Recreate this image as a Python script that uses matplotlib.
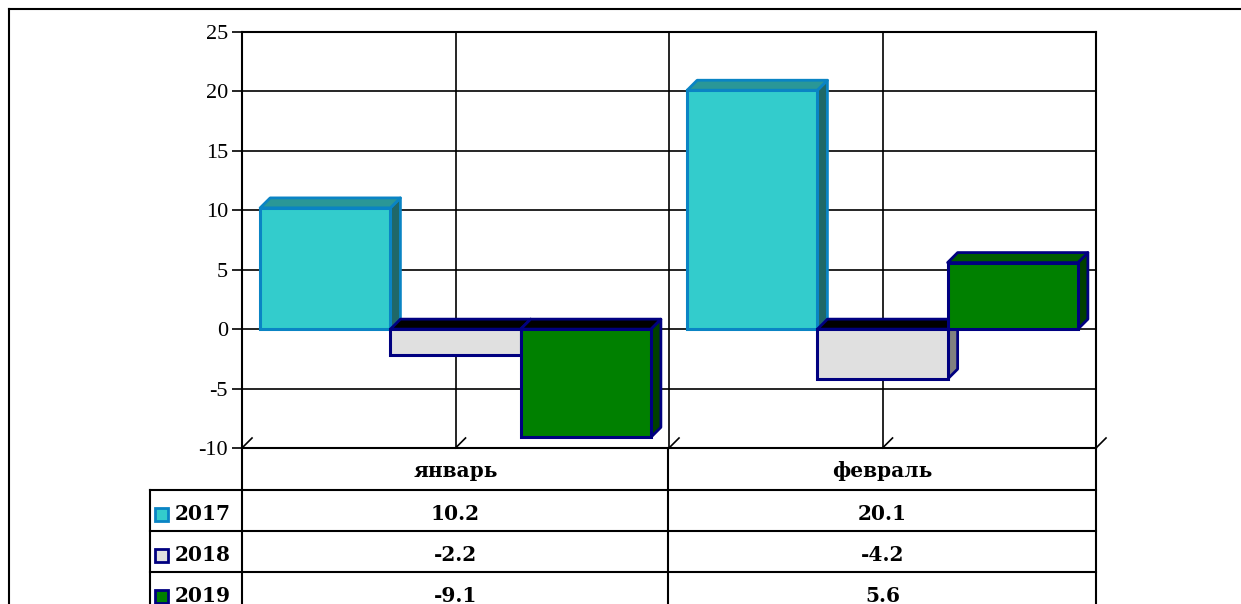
import matplotlib.pyplot as plt
import matplotlib.transforms as mtransforms
from matplotlib.patches import Rectangle, Polygon
from matplotlib.lines import Line2D

plt.rcParams['axes.unicode_minus'] = False

months = ["январь", "февраль"]
years = ["2017", "2018", "2019"]
v2017 = [10.2, 20.1]
v2018 = [-2.2, -4.2]
v2019 = [-9.1, 5.6]
series = [v2017, v2018, v2019]

face = ["#33CCCC", "#E0E0E0", "#008000"]
edge = ["#0A84C4", "#000080", "#000080"]
top_c = ["#2A9797", "#000000", "#005C00"]
side_c = ["#1F6868", "#808080", "#004000"]

W, H = 1241, 604
def fx(px):
    return px / W
def fy(py):
    return 1 - py / H

fig = plt.figure(figsize=(W / 100, H / 100), dpi=100)
ax = fig.add_axes([fx(242), fy(448), (1096 - 242) / W, (448 - 32) / H])
ax.set_xlim(-0.5, 1.5)
ax.set_ylim(-10, 25)

# depth of the fake 3d, in data units (10 px each way)
dx = 10 / 426
dy = 10 / (416 / 35)
w = 0.305
offs = [-0.305, 0.0, 0.305]

for y in range(-10, 30, 5):
    ax.axhline(y, color="black", lw=1.2, zorder=0)
for x in [-0.5, 0, 0.5, 1, 1.5]:
    ax.axvline(x, color="black", lw=1.2, zorder=0)
    ax.plot([x, x + dx], [-10, -10 + dy], color="black", lw=1.2, clip_on=False, zorder=0)

z = 2
for i in range(len(months)):
    for s, vals in enumerate(series):
        v = vals[i]
        x0 = i + offs[s] - w / 2
        x1 = x0 + w
        yt = max(v, 0)
        tc = top_c[s] if v >= 0 else "#000000"
        ax.add_patch(Polygon([(x1, 0), (x1 + dx, dy), (x1 + dx, v + dy), (x1, v)],
                             closed=True, fc=side_c[s], ec=edge[s], lw=2, joinstyle="round", zorder=z))
        ax.add_patch(Polygon([(x0, yt), (x0 + dx, yt + dy), (x1 + dx, yt + dy), (x1, yt)],
                             closed=True, fc=tc, ec=edge[s], lw=2, joinstyle="round", zorder=z))
        ax.add_patch(Rectangle((x0, 0), w, v, fc=face[s], ec=edge[s], lw=2.2, zorder=z + 1))
        z += 2

ax.set_xticks([])
ax.set_yticks(range(-10, 30, 5))
ax.tick_params(axis="y", direction="out", length=7, width=1.2, pad=3,
               labelsize=16, labelfontfamily="Liberation Serif")
for sp in ax.spines.values():
    sp.set_linewidth(1.5)

# data table under the plot
tr = mtransforms.blended_transform_factory(ax.transData, fig.transFigure)
tfont = dict(family="DejaVu Serif", fontweight="bold", fontsize=14.5)
row_tops = [448, 490, 531, 572]
for yp in row_tops[1:]:
    fig.add_artist(Line2D([fx(150), fx(1096)], [fy(yp), fy(yp)], color="black", lw=1.5))
for xp, ystart in [(150, 490), (242, 448), (668, 448), (1096, 448)]:
    fig.add_artist(Line2D([fx(xp), fx(xp)], [fy(ystart), 0], color="black", lw=1.5))

for i, m in enumerate(months):
    ax.text(i, fy(471), m, transform=tr, ha="center", va="center", **tfont)
    for s, vals in enumerate(series):
        yc = row_tops[s + 1] + 24
        ax.text(i, fy(yc), f"{vals[i]:.1f}", transform=tr, ha="center", va="center", **tfont)

for s, yr in enumerate(years):
    yc = row_tops[s + 1] + 24
    fig.add_artist(Rectangle((fx(155), fy(yc + 7)), 13 / W, 13 / H, transform=fig.transFigure,
                             fc=face[s], ec=edge[s], lw=2))
    fig.text(fx(175), fy(yc), yr, ha="left", va="center", **tfont)

# outer frame
fig.add_artist(Line2D([fx(9), fx(9)], [0, fy(9)], color="black", lw=1.5))
fig.add_artist(Line2D([fx(9), 1], [fy(9), fy(9)], color="black", lw=1.5))

fig.savefig("out.png", dpi=100)
